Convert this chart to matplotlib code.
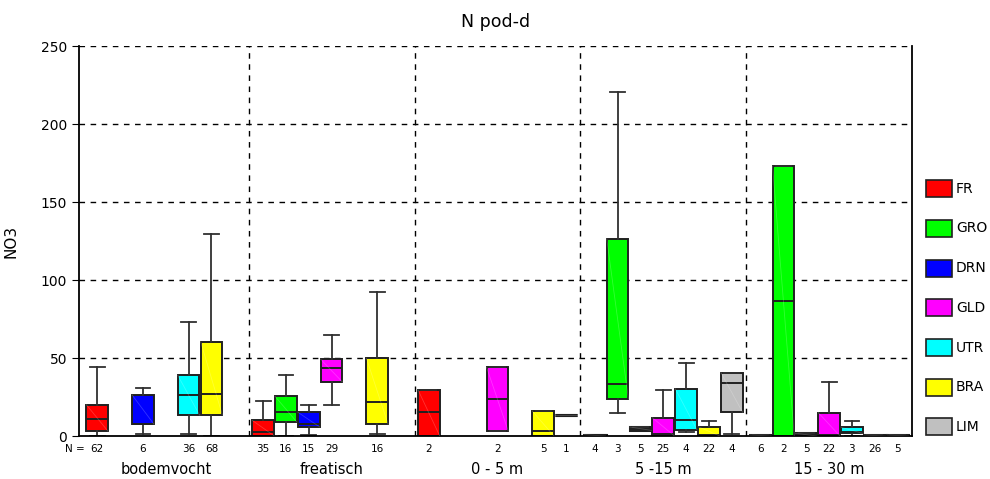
import matplotlib
matplotlib.use("Agg")
import matplotlib.pyplot as plt
import matplotlib.transforms as mtransforms
from matplotlib.patches import Rectangle
import numpy as np

# categories and groups
groups = ["bodemvocht", "freatisch", "0 - 5 m", "5 -15 m", "15 - 30 m"]
categories = ["FR", "GRO", "DRN", "GLD", "UTR", "BRA", "LIM"]
colors = ["#ff0000", "#00ff00", "#0000ff", "#ff00ff", "#00ffff", "#ffff00", "#c0c0c0"]

nan = np.nan
# rows = groups, columns = categories (nan = no box)
counts = [
    [62, nan, 6, nan, 36, 68, nan],
    [35, 16, 15, 29, nan, 16, nan],
    [2, nan, nan, 2, nan, 5, 1],
    [4, 3, 5, 25, 4, 22, 4],
    [6, 2, 5, 22, 3, 26, 5],
]
whislo = [
    [0.0, nan, 1.5, nan, 1.5, 0.0, nan],
    [0.0, 0.0, 0.8, 20.0, nan, 1.5, nan],
    [0.0, nan, nan, 3.2, nan, 0.0, 13.5],
    [0.0, 14.5, 3.6, 0.0, 2.8, 0.0, 1.5],
    [0.0, 0.0, 0.0, 0.0, 0.0, 0.0, 0.0],
]
q1 = [
    [3.0, nan, 7.7, nan, 13.5, 13.5, nan],
    [0.2, 9.0, 5.8, 34.6, nan, 7.5, nan],
    [0.0, nan, nan, 3.2, nan, 0.0, 13.5],
    [0.0, 23.7, 3.6, 0.2, 4.0, 0.0, 15.2],
    [0.0, 0.0, 0.0, 0.0, 1.7, 0.0, 0.0],
]
med = [
    [10.9, nan, 8.0, nan, 26.3, 27.1, nan],
    [2.4, 15.2, 7.5, 43.4, nan, 22.0, nan],
    [15.2, nan, nan, 23.5, nan, 3.0, 13.5],
    [0.4, 33.1, 4.8, 1.3, 10.0, 0.5, 33.8],
    [0.3, 86.5, 0.8, 0.5, 2.5, 0.3, 0.3],
]
q3 = [
    [20.0, nan, 26.3, nan, 38.9, 60.5, nan],
    [10.0, 25.4, 15.2, 49.1, nan, 49.8, nan],
    [29.5, nan, nan, 44.0, nan, 16.0, 13.5],
    [0.8, 126.5, 5.8, 11.7, 30.3, 6.0, 40.6],
    [0.6, 173.0, 1.7, 15.0, 5.6, 0.6, 0.6],
]
whishi = [
    [44.0, nan, 30.5, nan, 73.3, 129.5, nan],
    [22.6, 38.9, 20.0, 64.5, nan, 92.5, nan],
    [29.5, nan, nan, 44.0, nan, 16.0, 13.5],
    [0.8, 220.3, 5.8, 29.5, 46.6, 9.8, 40.6],
    [0.6, 173.0, 1.7, 34.8, 9.4, 0.6, 0.6],
]

group_step = 7.26
box_w = 0.95

fig = plt.figure(figsize=(9.9, 4.79), dpi=100)
ax = fig.add_axes([79 / 990, 1 - 436 / 479, 833 / 990, 390 / 479])

trans = mtransforms.blended_transform_factory(ax.transData, ax.transAxes)
edge = "#202020"

for g, gname in enumerate(groups):
    center = g * group_step
    for c, cname in enumerate(categories):
        if np.isnan(counts[g][c]):
            continue
        x = center + (c - 3)
        flat = q3[g][c] - q1[g][c] < 3
        stats = [{
            "whislo": whislo[g][c], "q1": q1[g][c], "med": med[g][c],
            "q3": q3[g][c], "whishi": whishi[g][c], "fliers": [],
        }]
        ax.bxp(
            stats, positions=[x], widths=box_w, capwidths=0.65,
            patch_artist=True, showfliers=False, manage_ticks=False,
            boxprops=dict(facecolor=colors[c], edgecolor=edge,
                          linewidth=2.2 if flat else 1.4),
            medianprops=dict(color=edge, linewidth=2.2 if flat else 1.4),
            whiskerprops=dict(color="#303030", linewidth=1.3),
            capprops=dict(color="#303030", linewidth=1.3),
        )
        # faint diagonal seen inside each box
        ax.plot([x - box_w / 2, x + box_w / 2], [q3[g][c], q1[g][c]],
                color="white", alpha=0.2, lw=0.6, zorder=3)
        ax.text(x, -0.033, f"{int(counts[g][c])}", transform=trans,
                ha="center", va="center", fontsize=7.5)
    ax.text(center, -0.085, gname, transform=trans, ha="center",
            va="center", fontsize=10.5)
    if g < len(groups) - 1:
        ax.axvline(center + group_step / 2, color="black", ls=(0, (4, 4)),
                   lw=1.0, zorder=0)

ax.text(-3.42, -0.033, "N = ", transform=trans, ha="right", va="center",
        fontsize=7.5)

ax.set_xlim(-3.8, 4 * group_step + 3.63)
ax.set_ylim(0, 250)
ax.set_yticks([0, 50, 100, 150, 200, 250])
ax.set_xticks([])
ax.tick_params(axis="y", direction="out", length=5, labelsize=10)
for yv in [50, 100, 150, 200, 250]:
    ax.axhline(yv, color="black", ls=(0, (4, 4)), lw=1.0, zorder=0)
ax.spines["top"].set_visible(False)
for s in ["left", "right", "bottom"]:
    ax.spines[s].set_linewidth(1.3)
ax.set_ylabel("NO3", fontsize=11, labelpad=16)
ax.set_title("N pod-d", fontsize=12.5, pad=14)

# legend on the right
for i, (cname, col) in enumerate(zip(categories, colors)):
    yc = 188.7 + 39.7 * i
    fig.add_artist(Rectangle((926 / 990, 1 - (yc + 8.5) / 479), 26 / 990,
                             17 / 479, transform=fig.transFigure,
                             facecolor=col, edgecolor=edge, lw=1.2))
    fig.text(956 / 990, 1 - yc / 479, cname, ha="left", va="center",
             fontsize=10)

fig.savefig("out.png", dpi=100)
